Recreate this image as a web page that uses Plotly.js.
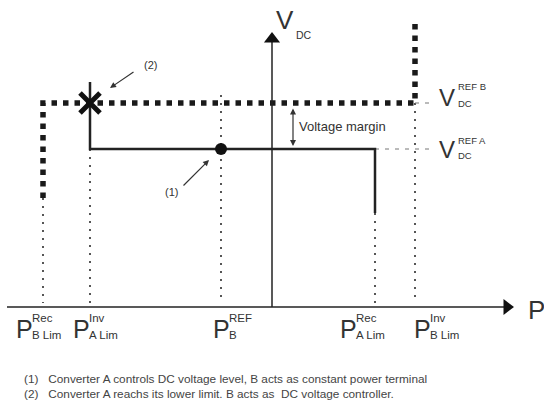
<!DOCTYPE html>
<html><head><meta charset="utf-8">
<script src="https://cdn.plot.ly/plotly-3.0.1.min.js"></script>
<style>html,body{margin:0;padding:0;background:#fff}#chart{width:544px;height:405px}</style>
</head><body><div id="chart"></div>
<script>
// ---------- DATA ----------
// Power levels on the P axis
const pValues = [-2.29, -1.82, -0.51, 1.03, 1.43];
const pMain   = ['P', 'P', 'P', 'P', 'P'];
const pSup    = ['Rec', 'Inv', 'REF', 'Rec', 'Inv'];
const pSub    = ['B Lim', 'A Lim', 'B', 'A Lim', 'B Lim'];
// Where each thin vertical guide starts (V value)
const guideTop = [1.09, 1.58, 2.12, 0.94, 2.04];
// DC voltage reference levels
const vRefA = 1.58;
const vRefB = 2.04;
// Converter A characteristic (solid)
const charA_P = [-1.82, -1.82, 1.03, 1.03];
const charA_V = [2.25, 1.58, 1.58, 0.94];
// Converter B characteristic (heavy dotted)
const charB_P = [-2.29, -2.29, 1.43, 1.43];
const charB_V = [1.09, 2.04, 2.04, 2.87];
// Operating points
const op1_P = [-0.51], op1_V = [1.58];
const op2_P = [-1.82], op2_V = [2.04];
// Axis extents
const pAxis = [-2.65, 2.35];
const vAxis = [0, 2.68];
// Texts
const notes = [
  '(1)   Converter A controls DC voltage level, B acts as constant power terminal',
  '(2)   Converter A reachs its lower limit. B acts as  DC voltage controller.'
];

// ---------- BUILD ----------
const FONT = 'Liberation Sans, Arial, sans-serif';
const TXT = '#333';
const traces = [];

// guides
const gx = [], gy = [];
pValues.forEach((p, i) => { gx.push(p, p, null); gy.push(guideTop[i], 0.04, null); });
traces.push({x: gx, y: gy, mode: 'lines', line: {color: '#444', width: 1.8, dash: '2px,6px'}});
// dashed reference extensions
traces.push({x: [charA_P[3], 1.60, null, charB_P[3], 1.60], y: [vRefA, vRefA, null, vRefB, vRefB],
  mode: 'lines', line: {color: '#777', width: 1, dash: '4px,6px'}});
// B char
traces.push({x: charB_P, y: charB_V, mode: 'lines', line: {color: '#1a1a1a', width: 5.5, dash: '5.5px,6px'}});
// A char
traces.push({x: charA_P, y: charA_V, mode: 'lines', line: {color: '#222', width: 2.5}});
// axes
traces.push({x: [pAxis[0], pAxis[1]], y: [0, 0], mode: 'lines', line: {color: '#222', width: 1.5}});
traces.push({x: [0, 0], y: [vAxis[0], vAxis[1]], mode: 'lines', line: {color: '#222', width: 1.5}});
traces.push({x: [pAxis[1]], y: [0], mode: 'markers', marker: {symbol: 'triangle-right', size: 14, color: '#111'}});
traces.push({x: [0], y: [vAxis[1]], mode: 'markers', marker: {symbol: 'triangle-up', size: 14, color: '#111'}});
// operating points
traces.push({x: op1_P, y: op1_V, mode: 'markers', marker: {symbol: 'circle', size: 12, color: '#111'}});
traces.push({x: op2_P, y: op2_V, mode: 'markers', marker: {symbol: 'x-thin-open', size: 20, color: '#111', line: {width: 5, color: '#111'}}});

const ann = [];
function txt(x, y, t, size, opts) {
  ann.push(Object.assign({x: x, y: y, text: t, showarrow: false, xanchor: 'left', yanchor: 'middle',
    font: {family: FONT, size: size, color: TXT}}, opts || {}));
}
// tick labels
const mainShift = [-27, -17, -8, -35, -1];
pValues.forEach((p, i) => {
  txt(p, 0, pMain[i], 25, {xshift: mainShift[i] - 2, yshift: -22});
  txt(p, 0, pSup[i], 11.5, {xshift: mainShift[i] + 14, yshift: -11});
  txt(p, 0, pSub[i], 11.5, {xshift: mainShift[i] + 14, yshift: -28});
});
// axis names
txt(pAxis[1], 0, 'P', 26, {xshift: 19, yshift: -3});
txt(0, vAxis[1], 'V', 26, {xshift: 2, yshift: 19});
txt(0, vAxis[1], 'DC', 10.5, {xshift: 22, yshift: 4});
// reference voltage labels
txt(charB_P[3], vRefB, 'V', 24, {xshift: 22, yshift: 6});
txt(charB_P[3], vRefB, 'REF B', 9.5, {xshift: 41, yshift: 17});
txt(charB_P[3], vRefB, 'DC', 9.5, {xshift: 41, yshift: 0});
txt(charB_P[3], vRefA, 'V', 24, {xshift: 22, yshift: 0});
txt(charB_P[3], vRefA, 'REF A', 9.5, {xshift: 41, yshift: 9});
txt(charB_P[3], vRefA, 'DC', 9.5, {xshift: 41, yshift: -6});
// voltage margin
ann.push({x: 0.21, y: vRefA + 0.03, ax: 0.21, ay: vRefB - 0.04, axref: 'x', ayref: 'y', text: '',
  showarrow: true, arrowhead: 2, arrowside: 'end+start', arrowsize: 1, arrowwidth: 1.2, arrowcolor: '#333'});
txt(0.21, (vRefA + vRefB) / 2, 'Voltage margin', 13, {xshift: 4});
// callouts
ann.push({x: op2_P[0] + 0.20, y: op2_V[0] + 0.15, ax: op2_P[0] + 0.45, ay: op2_V[0] + 0.32, axref: 'x', ayref: 'y',
  text: '', showarrow: true, arrowhead: 2, arrowsize: 1, arrowwidth: 1.2, arrowcolor: '#333'});
txt(op2_P[0] + 0.52, op2_V[0] + 0.38, '(2)', 11, {});
ann.push({x: op1_P[0] - 0.12, y: op1_V[0] - 0.11, ax: op1_P[0] - 0.39, ay: op1_V[0] - 0.38, axref: 'x', ayref: 'y',
  text: '', showarrow: true, arrowhead: 2, arrowsize: 1, arrowwidth: 1.2, arrowcolor: '#333'});
txt(op1_P[0] - 0.58, op1_V[0] - 0.43, '(1)', 11, {});
// footnotes
notes.forEach((n, i) => {
  ann.push({xref: 'paper', yref: 'paper', x: 22 / 544, y: 1 - (379 + 15 * i) / 405, text: n, showarrow: false,
    xanchor: 'left', yanchor: 'middle', font: {family: FONT, size: 11.8, color: '#444'}});
});

const layout = {
  width: 544, height: 405, margin: {l: 0, r: 0, t: 0, b: 0},
  paper_bgcolor: '#fff', plot_bgcolor: '#fff', showlegend: false,
  xaxis: {range: [-2.72, 2.72], visible: false, fixedrange: true},
  yaxis: {range: [-0.98, 3.07], visible: false, fixedrange: true},
  annotations: ann
};
traces.forEach(t => { t.hoverinfo = 'skip'; t.showlegend = false; t.type = 'scatter'; });
Plotly.newPlot('chart', traces, layout, {staticPlot: true, displayModeBar: false});
</script></body></html>
